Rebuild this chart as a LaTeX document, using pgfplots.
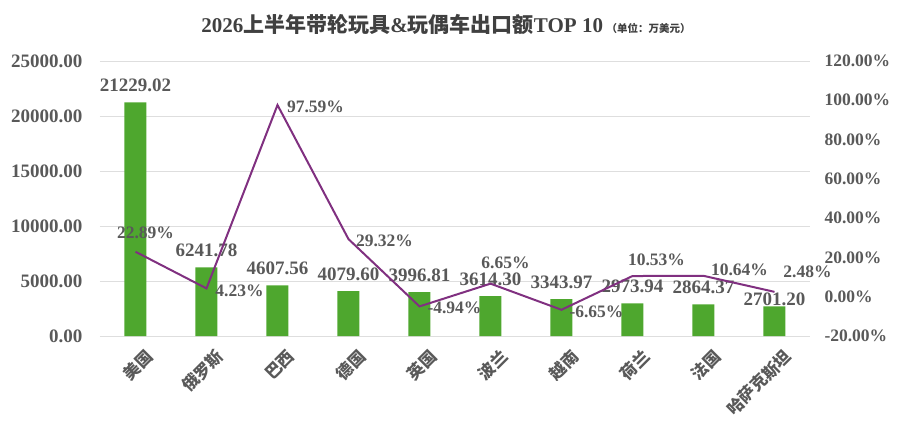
\documentclass[border=0pt]{standalone}
\usepackage{fontspec}
\setmainfont{Liberation Serif}
\newfontfamily\cjk{Noto Sans CJK SC}
\usepackage{pgfplots}
\pgfplotsset{compat=1.18}
\usepackage{pgfplotstable}

\definecolor{bargreen}{RGB}{78,167,46}
\definecolor{linepurple}{RGB}{128,48,128}
\definecolor{txt}{RGB}{89,89,89}
\definecolor{titlec}{RGB}{64,64,64}
\definecolor{gridc}{RGB}{222,222,222}

\pgfplotstableread{
x val dy
0 21229.02 17
1 6241.78 17
2 4607.56 17
3 4079.60 17
4 3996.81 17
5 3614.30 17
6 3343.97 17
7 2973.94 17
8 2864.37 17
9 2701.20 7
}\bars

\pgfplotstableread{
x val dx dy
0 22.89 10 19
1 4.23 33 -2
2 97.59 38 -2
3 29.32 36 -2
4 -4.94 35 -1
5 6.65 15 21
6 -6.65 35 -2
7 10.53 24 16
8 10.64 36 6
9 2.48 33 20
}\rates

\begin{document}
\begin{tikzpicture}
\useasboundingbox (-100pt,-96pt) rectangle (800pt,336pt);
\node[anchor=base, text=titlec, font=\bfseries] at (346pt,304pt)
 {\fontsize{21}{21}\selectfont 2026{\cjk 上半年带轮玩具}\&{\cjk 玩偶车出口额}TOP 10\,{\cjk\fontsize{10.5}{10.5}\selectfont （单位：万美元）}};
\begin{axis}[
  scale only axis, width=710pt, height=275pt,
  at={(0,0)}, anchor=south west,
  xmin=-0.5, xmax=9.5, ymin=0, ymax=25000,
  xtick={0,...,9},
  xticklabels={美国,俄罗斯,巴西,德国,英国,波兰,越南,荷兰,法国,哈萨克斯坦},
  xticklabel style={rotate=45, anchor=east, xshift=1pt, yshift=-22pt,
    font=\cjk\bfseries\fontsize{16.5}{16.5}\selectfont, text=txt},
  ytick={0,5000,...,25000},
  scaled y ticks=false,
  yticklabel style={xshift=-14pt, font=\bfseries\fontsize{19}{19}\selectfont, text=txt},
  /pgf/number format/.cd, fixed, fixed zerofill, precision=2, 1000 sep={}, assume math mode=true,
  /pgfplots/.cd,
  ymajorgrids, grid style={gridc, line width=1pt},
  axis line style={draw=none}, tick style={draw=none},
]
\addplot[ybar, bar width=22pt, fill=bargreen, draw=none,
  nodes near coords,
  visualization depends on={\thisrow{dy} \as \dyv},
  nodes near coords style={anchor=center, yshift=\dyv pt, text=txt,
    font=\bfseries\fontsize{19}{19}\selectfont}]
  table[x=x, y=val] {\bars};
\end{axis}
\begin{axis}[
  scale only axis, width=710pt, height=275pt,
  at={(0,0)}, anchor=south west,
  xmin=-0.5, xmax=9.5, ymin=-20, ymax=120,
  axis x line=none, axis y line*=right,
  ytick={-20,0,...,120},
  scaled y ticks=false,
  yticklabel={\pgfmathprintnumber{\tick}\%},
  yticklabel style={xshift=11pt, font=\bfseries\fontsize{17.5}{17.5}\selectfont, text=txt},
  /pgf/number format/.cd, fixed, fixed zerofill, precision=2, 1000 sep={}, assume math mode=true,
  /pgfplots/.cd,
  axis line style={draw=none}, tick style={draw=none},
]
\addplot[linepurple, line width=2pt, mark=none,
  nodes near coords={\pgfmathprintnumber{\pgfplotspointmeta}\%},
  visualization depends on={\thisrow{dx} \as \dxv},
  visualization depends on={\thisrow{dy} \as \dyv},
  nodes near coords style={anchor=center, xshift=\dxv pt, yshift=\dyv pt, text=txt,
    font=\bfseries\fontsize{17.5}{17.5}\selectfont}]
  table[x=x, y=val] {\rates};
\end{axis}
\end{tikzpicture}
\end{document}
